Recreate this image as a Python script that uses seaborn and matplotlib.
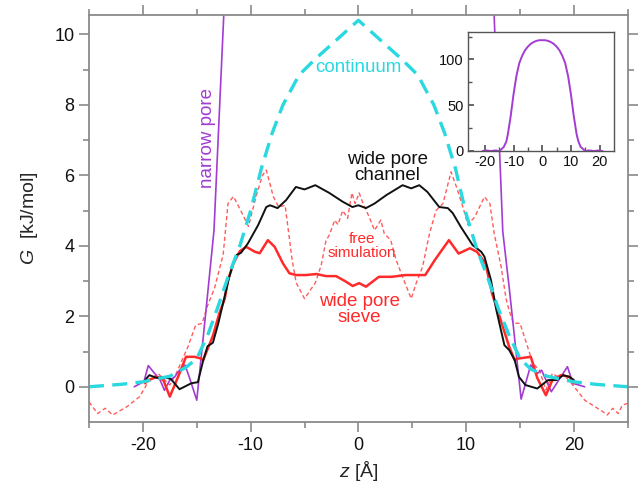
import numpy as np
import pandas as pd
import matplotlib
matplotlib.use("Agg")
import matplotlib.pyplot as plt
import seaborn as sns

# continuum model (cyan dashed)
cont_z = [-25, -22, -20, -17.5, -16, -15, -14, -13, -12, -11, -10, -9, -8, -7, -5.5, -4, -2, 0,
          2, 4, 5.5, 7, 8, 9, 10, 11, 12, 13, 14, 15, 16, 17.5, 20, 22, 25]
cont_g = [0, 0.07, 0.14, 0.3, 0.55, 0.8, 1.45, 2.3, 3.2, 4.0, 5.0, 6.2, 7.2, 8.0, 8.85, 9.3, 9.85, 10.4,
          9.85, 9.3, 8.85, 8.0, 7.2, 6.2, 4.9, 3.9, 3.1, 2.2, 1.45, 0.8, 0.5, 0.3, 0.14, 0.07, 0]

# wide pore channel (black)
chan_z = [-19.8, -19.4, -18.7, -18.1, -17.4, -16.6, -15.5, -14.9, -14.4, -14.0, -13.5, -13.0, -12.5, -12.0,
          -11.6, -11.3, -10.9, -10.25, -9.3, -8.55, -8.2, -7.5, -6.7, -5.8, -5.0, -4.0, -2.7, -1.45, -0.55,
          0.0, 0.7, 1.5, 2.6, 4.1, 4.9, 5.65, 6.4, 7.5, 8.3, 8.75, 9.5, 10.6, 11.4, 11.7, 12.3, 12.8, 13.55,
          14.0, 14.5, 14.9, 15.5, 16.6, 17.6, 18.4, 19.0, 19.6, 20.0]
chan_g = [0.19, 0.33, 0.25, 0.28, 0.22, -0.07, 0.1, 0.13, 0.75, 1.15, 1.25, 1.8, 2.45, 3.1,
          3.5, 3.74, 3.8, 4.07, 4.59, 5.1, 5.15, 5.07, 5.3, 5.67, 5.6, 5.72, 5.5, 5.25, 5.1,
          5.15, 5.07, 5.2, 5.44, 5.72, 5.63, 5.72, 5.53, 5.1, 5.07, 4.93, 4.54, 4.02, 3.83, 3.69, 3.03, 2.18, 1.18,
          1.04, 0.76, 0.28, 0.05, -0.05, 0.19, 0.19, 0.33, 0.28, 0.19]

# wide pore sieve (red)
sieve_z = [-19.8, -19.5, -18.7, -18.1, -17.5, -16.6, -16.0, -15.2, -14.6, -14.4, -13.5, -12.9, -12.4, -12.1,
           -11.6, -11.0, -10.4, -9.6, -9.16, -8.4, -7.77, -7.0, -6.4, -5.77, -4.85, -3.9, -3.0, -2.07, -1.14,
           -0.53, 0.07, 0.7, 1.9, 3.1, 4.35, 6.2, 7.1, 8.4, 9.3, 10.35, 11.0, 11.8, 12.4, 13.0, 14.0, 14.5,
           14.8, 16.0, 16.6, 17.4, 18.0, 18.8, 19.6, 20.0]
sieve_g = [0.1, 0.19, 0.28, 0.19, -0.28, 0.38, 0.85, 0.85, 0.8, 0.76, 1.45, 2.09, 2.5, 3.03,
           3.5, 3.85, 3.97, 3.83, 3.79, 4.16, 3.97, 3.5, 3.22, 3.17, 3.17, 3.2, 3.14, 3.14, 2.98,
           2.86, 2.94, 2.84, 3.12, 3.12, 3.17, 3.17, 3.6, 4.16, 3.78, 3.93, 3.83, 3.5, 2.65, 2.09, 1.13, 0.76,
           0.8, 0.85, 0.25, -0.24, 0.19, 0.33, 0.28, 0.1]

# free simulation (red dashed)
free_z = [-25.0, -24.2, -23.5, -22.8, -21.5, -20.3, -19.5, -18.6, -17.5, -16.9, -15.8, -15.1, -14.5, -14.0,
          -13.35, -12.55, -12.1, -11.6, -11.0, -10.2, -9.5, -8.9, -8.55, -7.9, -7.4, -6.8, -6.15, -5.77, -5.0,
          -4.0, -3.45, -3.0, -2.7, -2.2, -1.9, -1.45, -1.0, -0.6, -0.3, 0.07, 0.5, 1.0, 1.5, 2.08, 2.4, 3.0,
          3.5, 4.1, 4.9, 5.35, 5.95, 6.6, 7.2, 7.85, 8.6, 9.1, 9.7, 10.15, 10.8, 11.7, 12.2, 12.6, 13.25, 13.7,
          14.0, 14.4, 15.0, 15.6, 16.2, 16.8, 17.4, 18.0, 18.5, 19.1, 19.9, 21.0, 22.7, 23.1, 23.6, 24.1, 24.5, 25.0]
free_g = [-0.43, -0.76, -0.61, -0.8, -0.57, -0.28, 0.14, 0.38, 0.05, 0.38, 1.15, 1.75, 1.8, 2.3,
          2.8, 3.75, 5.2, 5.4, 5.05, 4.55, 5.4, 6.0, 6.15, 5.4, 5.1, 5.15, 3.6, 2.95, 2.5,
          2.95, 3.45, 4.16, 4.3, 4.73, 4.6, 5.0, 4.78, 5.5, 5.2, 5.5, 5.15, 4.82, 4.44, 4.73, 4.35, 4.16,
          3.6, 3.12, 2.5, 2.93, 3.4, 4.35, 5.0, 5.2, 6.1, 5.67, 5.1, 4.6, 4.82, 5.39, 5.2, 4.35, 3.4, 2.5,
          2.15, 1.8, 1.8, 1.23, 0.66, 0.47, -0.09, 0.38, 0.28, 0.33, 0.05, -0.38, -0.71, -0.8, -0.61, -0.76, -0.52, -0.47]

# narrow pore (purple), full profile also shown in the inset
narrow_z = [-20.8, -19.9, -19.5, -18.4, -18.0, -17.5, -17.05, -16.6, -16.1, -15.7, -15.0, -14.2, -13.4, -12.5,
            -12.0, -11.0, -10.0, -9.0, -8.0, -7.0, -6.0, -5.0, -4.0, -3.0, -2.0, -1.0, 0.0, 1.0, 2.0, 3.0, 4.0,
            5.0, 6.0, 7.0, 8.0, 9.0, 10.0, 11.0, 12.0, 12.6, 13.4, 14.0, 15.1, 16.0, 16.6, 17.0, 17.9, 19.4,
            19.9, 21.0]
narrow_g = [0.0, 0.15, 0.6, 0.19, -0.1, 0.19, 0.28, 0.47, 0.62, 0.28, -0.38, 2.0, 4.44, 10.5,
            18, 38, 62, 82, 96, 104, 110, 114, 117, 119, 120.3, 121, 121, 121, 120.3, 119, 117,
            114, 110, 104, 96, 82, 62, 38, 18, 10.5, 4.4, 2.8, -0.35, 0.62, 0.38, 0.47, -0.14, 0.57,
            0.1, 0.0]

c_cyan = "#2ad8e0"
c_purple = "#a23cd2"
c_red = "#ff2a2a"
c_free = "#ff5c5c"
c_axis = "#8a8a8a"

sns.set_theme(style="ticks")
plt.rcParams["font.family"] = ["Liberation Sans", "DejaVu Sans"]
plt.rcParams["mathtext.fontset"] = "custom"
plt.rcParams["mathtext.it"] = "Liberation Sans:italic"
plt.rcParams["mathtext.rm"] = "Liberation Sans"
plt.rcParams["axes.unicode_minus"] = False

fig = plt.figure(figsize=(6.38, 4.91), dpi=100)
ax = fig.add_axes([0.1395, 0.1405, 0.8445, 0.829])

sns.lineplot(x=free_z, y=free_g, ax=ax, color=c_free, lw=1.0, sort=False, estimator=None,
             linestyle=(0, (3, 2)))
sns.lineplot(x=narrow_z, y=narrow_g, ax=ax, color=c_purple, lw=1.2, sort=False, estimator=None)
sns.lineplot(x=sieve_z, y=sieve_g, ax=ax, color=c_red, lw=1.8, sort=False, estimator=None)
sns.lineplot(x=chan_z, y=chan_g, ax=ax, color="#111111", lw=1.4, sort=False, estimator=None)
sns.lineplot(x=cont_z, y=cont_g, ax=ax, color=c_cyan, lw=2.4, sort=False, estimator=None,
             linestyle=(0, (4.5, 2.5)))

ax.set_xlim(-25, 25)
ax.set_ylim(-1, 10.55)
ax.set_xticks([-20, -10, 0, 10, 20])
ax.set_xticks([-25, -15, -5, 5, 15, 25], minor=True)
ax.set_yticks([0, 2, 4, 6, 8, 10])
ax.set_yticks([1, 3, 5, 7, 9], minor=True)
ax.tick_params(which="both", direction="out", top=True, right=True, color=c_axis, width=1.2,
               labelsize=13, labelcolor="#111111")
ax.tick_params(which="major", length=7)
ax.tick_params(which="minor", length=4)
for s in ax.spines.values():
    s.set_color(c_axis)
    s.set_linewidth(1.3)

ax.set_xlabel(r"$\mathit{z}$ [Å]", fontsize=14)
ax.set_ylabel(r"$\mathit{G}$  [kJ/mol]", fontsize=14, labelpad=10)

ax.text(-14.0, 7.06, "narrow pore", rotation=90, color=c_purple, fontsize=13.5, ha="center", va="center")
ax.text(0, 9.07, "continuum", color=c_cyan, fontsize=13.5, ha="center", va="center")
ax.text(2.7, 6.23, "wide pore\nchannel", color="#111111", fontsize=13.5, ha="center", va="center",
        linespacing=0.95)
ax.text(0.3, 4.0, "free\nsimulation", color=c_red, fontsize=11, ha="center", va="center", linespacing=0.95)
ax.text(0.1, 2.2, "wide pore\nsieve", color=c_red, fontsize=13.5, ha="center", va="center", linespacing=0.95)

# inset with the full narrow pore profile
ins = fig.add_axes([0.733, 0.6925, 0.2293, 0.2424])
ins.set_facecolor("white")
sns.lineplot(x=narrow_z, y=narrow_g, ax=ins, color=c_purple, lw=1.4, sort=False, estimator=None)
ins.set_xlim(-26, 25)
ins.set_ylim(0, 130)
ins.set_xticks([-20, -10, 0, 10, 20])
ins.set_xticks([-15, -5, 5, 15], minor=True)
ins.set_yticks([0, 50, 100])
ins.set_yticks([25, 75, 125], minor=True)
ins.tick_params(which="both", direction="in", color="#555555", labelsize=10.5, labelcolor="#111111", pad=3)
ins.tick_params(which="major", length=4)
ins.tick_params(which="minor", length=3)
for s in ins.spines.values():
    s.set_color("#555555")
    s.set_linewidth(1.0)

fig.savefig("out.png", dpi=100)
